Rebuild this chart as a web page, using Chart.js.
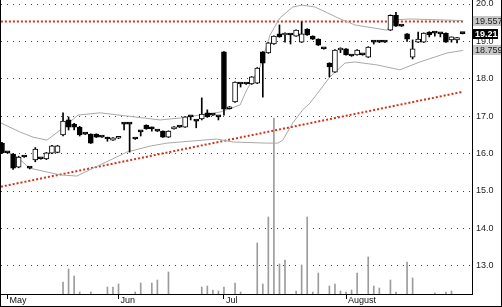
<!DOCTYPE html>
<html>
<head>
<meta charset="utf-8">
<script src="https://cdn.jsdelivr.net/npm/chart.js@4.4.1/dist/chart.umd.min.js"></script>
<style>
  html, body { margin: 0; padding: 0; background: #fff; }
  #frame {
    position: absolute; left: 0; top: 0; width: 500px; height: 306px;
    border-left: 1px solid #000; border-right: 1px solid #000; border-bottom: 1px solid #000;
  }
  canvas { display: block; }
</style>
</head>
<body>
<div id="frame"><canvas id="chart" width="500" height="306"></canvas></div>
<script>
/* Daily candles with Bollinger bands, volume and two drawn trend lines */

const opens  = [16.28, 16.02, 15.99, 15.64, 15.91, 15.61, 15.83, 15.86, 15.86, 16.01,
                16.03, 16.50, 16.90, 16.79, 16.71, 16.52, 16.52, 16.52, 16.44, 16.39,
                16.36, 16.41, 16.79, 16.79, 16.39, 16.58, 16.76, 16.66, 16.60, 16.60,
                16.44, 16.66, 16.71, 16.71, 16.98, 16.87, 16.93, 17.09, 17.03, 16.98,
                18.72, 17.20, 17.38, 17.86, 17.86, 17.86, 17.88, 18.72, 18.69, 18.93,
                19.20, 19.17, 19.17, 19.14, 18.98, 19.33, 19.14, 19.06, 18.80, 18.42,
                18.18, 18.77, 18.80, 18.61, 18.64, 18.64, 18.58, 18.98, 18.98, 18.98,
                19.30, 19.70, 19.41, 19.20, 18.58, 18.98, 18.98, 19.25, 19.22, 19.20,
                19.22, 19.04, 19.04, 19.21];
const highs  = [16.30, 16.03, 16.00, 15.93, 15.92, 15.62, 16.16, 15.87, 16.03, 16.22,
                16.22, 17.09, 16.98, 16.81, 16.73, 16.53, 16.53, 16.53, 16.45, 16.44,
                16.43, 16.46, 16.80, 16.80, 16.40, 16.59, 16.77, 16.71, 16.61, 16.61,
                16.61, 16.72, 16.72, 16.99, 16.99, 16.88, 17.49, 17.17, 17.04, 16.99,
                18.73, 17.26, 17.92, 17.87, 17.87, 18.06, 18.30, 18.73, 18.97, 19.15,
                19.44, 19.23, 19.18, 19.31, 19.52, 19.34, 19.15, 19.07, 18.81, 18.43,
                18.78, 18.83, 18.81, 18.62, 18.78, 18.65, 18.86, 18.99, 18.99, 18.99,
                19.71, 19.78, 19.42, 19.21, 19.04, 19.25, 19.23, 19.26, 19.23, 19.21,
                19.23, 19.12, 19.10, 19.22];
const lows   = [16.00, 16.01, 15.58, 15.62, 15.90, 15.59, 15.78, 15.85, 15.84, 16.00,
                16.02, 16.47, 16.63, 16.63, 16.47, 16.51, 16.27, 16.43, 16.43, 16.33,
                16.35, 16.40, 16.63, 16.04, 16.38, 16.47, 16.65, 16.60, 16.59, 16.43,
                16.43, 16.65, 16.70, 16.70, 16.90, 16.69, 16.90, 16.97, 17.02, 16.90,
                17.03, 17.19, 17.37, 17.78, 17.85, 17.85, 17.87, 17.51, 18.68, 18.92,
                19.11, 18.98, 18.93, 19.13, 18.97, 19.16, 19.05, 18.89, 18.79, 18.05,
                18.17, 18.70, 18.63, 18.60, 18.63, 18.63, 18.57, 18.93, 18.97, 18.97,
                19.29, 19.40, 19.40, 19.00, 18.53, 18.97, 18.97, 19.12, 19.14, 19.12,
                18.97, 18.98, 18.96, 19.20];
const closes = [16.02, 16.02, 15.61, 15.91, 15.91, 15.61, 16.12, 15.86, 16.02, 16.21,
                16.21, 16.87, 16.71, 16.71, 16.50, 16.52, 16.28, 16.44, 16.44, 16.39,
                16.42, 16.45, 16.79, 16.79, 16.39, 16.58, 16.66, 16.66, 16.60, 16.44,
                16.60, 16.71, 16.71, 16.98, 16.98, 16.87, 17.06, 16.98, 17.03, 16.98,
                17.19, 17.25, 17.91, 17.86, 17.86, 18.05, 18.29, 18.42, 18.96, 19.14,
                19.12, 19.22, 19.17, 19.30, 19.20, 19.17, 19.06, 18.90, 18.80, 18.32,
                18.77, 18.82, 18.64, 18.61, 18.77, 18.64, 18.85, 18.98, 18.98, 18.98,
                19.70, 19.41, 19.41, 19.06, 18.80, 19.06, 19.22, 19.18, 19.22, 19.20,
                18.98, 19.12, 19.10, 19.21];

// volume (thousands of shares), only the sessions where a bar is visible
const volIdx  = [11, 12, 13, 14, 16, 19, 20, 21, 24, 25, 27, 28, 30, 36, 37, 38, 39, 40,
                 42, 43, 46, 47, 48, 49, 50, 51, 53, 54, 55, 56, 57, 59, 60, 61, 62, 63,
                 64, 66, 67, 68, 70, 71, 73, 74, 78, 80, 81];
const volumes = [120, 250, 180, 20, 20, 70, 70, 100, 20, 110, 110, 140, 220, 70, 80, 40, 30, 70,
                 110, 20, 510, 100, 770, 1760, 300, 340, 30, 290, 770, 20, 210, 80, 100, 30, 20, 40,
                 210, 370, 80, 60, 140, 20, 320, 160, 10, 20, 30];

// Bollinger bands
const upperIdx  = [-0.2, 3.2, 5.6, 8.1, 10.5, 13.7, 17.7, 22.2, 28.5, 32, 39.3, 42.9, 44.1,
                   46.5, 48.3, 50.1, 52.4, 54.1, 56.4, 58.7, 60.5, 63.6, 69.4, 70.3, 73.5, 83.1];
const upperBand = [16.82, 16.58, 16.44, 16.36, 16.63, 17.03, 17.09, 17.01, 16.90, 16.95, 17.11, 17.30, 17.70,
                   18.32, 19.17, 19.63, 19.92, 19.97, 19.92, 19.76, 19.63, 19.44, 19.30, 19.57, 19.60, 19.557];
const lowerIdx  = [-0.2, 2.3, 5.0, 10.5, 13.5, 17.7, 22.5, 26.7, 29.7, 38.7, 41.6, 47.7, 49.7,
                   50.6, 52.4, 54.2, 55.5, 57.3, 59.1, 61.8, 63.6, 67.6, 71.7, 75.3, 80.2, 83.1];
const lowerBand = [16.10, 15.96, 15.61, 15.43, 15.40, 15.70, 16.04, 16.20, 16.28, 16.39, 16.31, 16.28, 16.28,
                   16.36, 16.82, 17.17, 17.35, 17.70, 18.05, 18.42, 18.45, 18.37, 18.24, 18.45, 18.69, 18.759];

// hand-drawn lines
const lineIdx     = [-0.2, 83.1];
const resistance  = [19.53, 19.53];
const trendVals   = [15.115, 17.655];

const monthIdx    = [1, 21, 40, 62];
const monthLabels = ["May", "Jun", "Jul", "August"];
const priceTicks  = [13, 14, 15, 16, 17, 18, 19, 20];

const tagValues = [19.557, 18.759];
const lastPrice = 19.21;

const FONT = '"Liberation Sans", Arial, sans-serif';

/* ---------- Datasets ---------- */

const idx = closes.map((_, i) => i);
const bodies = idx.map(i => ({ x: i, y: [opens[i], closes[i]] }));
const wicks = idx.map(i => ({ x: i, y: [lows[i], highs[i]] }));
const bodyColors = idx.map(i => closes[i] > opens[i] ? "#fff" : "#000");

const pairs = (xs, ys) => xs.map((x, i) => ({ x, y: ys[i] }));

/* ---------- Price tags on the right ---------- */

const priceTags = {
    id: "priceTags",
    afterDraw(chart) {
        const { ctx, chartArea, scales: { y } } = chart;
        const left = chartArea.right + 1;
        ctx.save();
        ctx.textBaseline = "middle";
        ctx.font = `9px ${FONT}`;
        tagValues.forEach(v => {
            const py = Math.round(y.getPixelForValue(v));
            ctx.fillStyle = "#c6c6c6";
            ctx.fillRect(left, py - 5, 40, 10);
            ctx.fillStyle = "#222";
            ctx.fillText(v.toFixed(3), left + 2, py + 0.5);
        });
        const py = Math.round(y.getPixelForValue(lastPrice));
        ctx.fillStyle = "#000";
        ctx.fillRect(left, py - 5, 25, 10);
        ctx.fillStyle = "#fff";
        ctx.font = `bold 9px ${FONT}`;
        ctx.fillText(lastPrice.toFixed(2), left + 2, py + 0.5);
        ctx.restore();
    }
};

/* ---------- Chart ---------- */

new Chart(document.getElementById("chart"), {
    type: "bar",
    data: {
        datasets: [
            {
                data: bodies,
                backgroundColor: bodyColors,
                borderColor: "#000",
                borderWidth: 1,
                borderSkipped: false,
                barThickness: 5,
                minBarLength: 2,
                grouped: false,
                yAxisID: "y",
            },
            {
                data: wicks,
                backgroundColor: "#000",
                barThickness: 1,
                grouped: false,
                yAxisID: "y",
            },
            {
                type: "line",
                data: pairs(upperIdx, upperBand),
                borderColor: "#a9a9a9",
                borderWidth: 1,
                pointRadius: 0,
                yAxisID: "y",
            },
            {
                type: "line",
                data: pairs(lowerIdx, lowerBand),
                borderColor: "#a9a9a9",
                borderWidth: 1,
                pointRadius: 0,
                yAxisID: "y",
            },
            {
                type: "line",
                data: pairs(lineIdx, resistance),
                borderColor: "#d2321a",
                borderWidth: 2,
                borderDash: [2, 2],
                pointRadius: 0,
                yAxisID: "y",
            },
            {
                type: "line",
                data: pairs(lineIdx, trendVals),
                borderColor: "#d2321a",
                borderWidth: 2,
                borderDash: [2, 2],
                pointRadius: 0,
                yAxisID: "y",
            },
            {
                data: pairs(volIdx, volumes),
                backgroundColor: "#9c9c9c",
                barThickness: 1,
                grouped: false,
                yAxisID: "yv",
            },
        ]
    },
    options: {
        responsive: false,
        animation: false,
        layout: { padding: 0 },
        plugins: {
            legend: { display: false },
            tooltip: { enabled: false }
        },
        scales: {
            x: {
                type: "linear",
                min: -0.18,
                max: 84.7,
                offset: false,
                grid: {
                    offset: false,
                    drawOnChartArea: false,
                    drawTicks: true,
                    tickLength: 5,
                    tickColor: "#000",
                    color: "#000"
                },
                border: { display: true, color: "#000", width: 1 },
                afterBuildTicks: s => { s.ticks = monthIdx.map(v => ({ value: v })); },
                ticks: {
                    autoSkip: false,
                    maxRotation: 0,
                    align: "start",
                    padding: -4,
                    labelOffset: 2,
                    color: "#111",
                    font: { size: 9, family: FONT },
                    callback: (v, i) => monthLabels[i]
                },
                afterFit: s => { s.height = 12; s.paddingLeft = 0; s.paddingRight = 0; }
            },
            y: {
                position: "right",
                min: 12.246,
                max: 20.107,
                afterBuildTicks: s => { s.ticks = priceTicks.map(v => ({ value: v })); },
                grid: { color: "#444", drawTicks: false, lineWidth: 1 },
                border: { display: true, color: "#000", width: 1, dash: [1, 5] },
                ticks: {
                    padding: 4,
                    color: "#222",
                    font: { size: 9, family: FONT },
                    callback: v => v.toFixed(1)
                },
                afterFit: s => { s.width = 29; s.paddingTop = 0; s.paddingBottom = 0; }
            },
            yv: {
                display: false,
                min: 0,
                max: 2940
            }
        }
    },
    plugins: [priceTags]
});
</script>
</body>
</html>
